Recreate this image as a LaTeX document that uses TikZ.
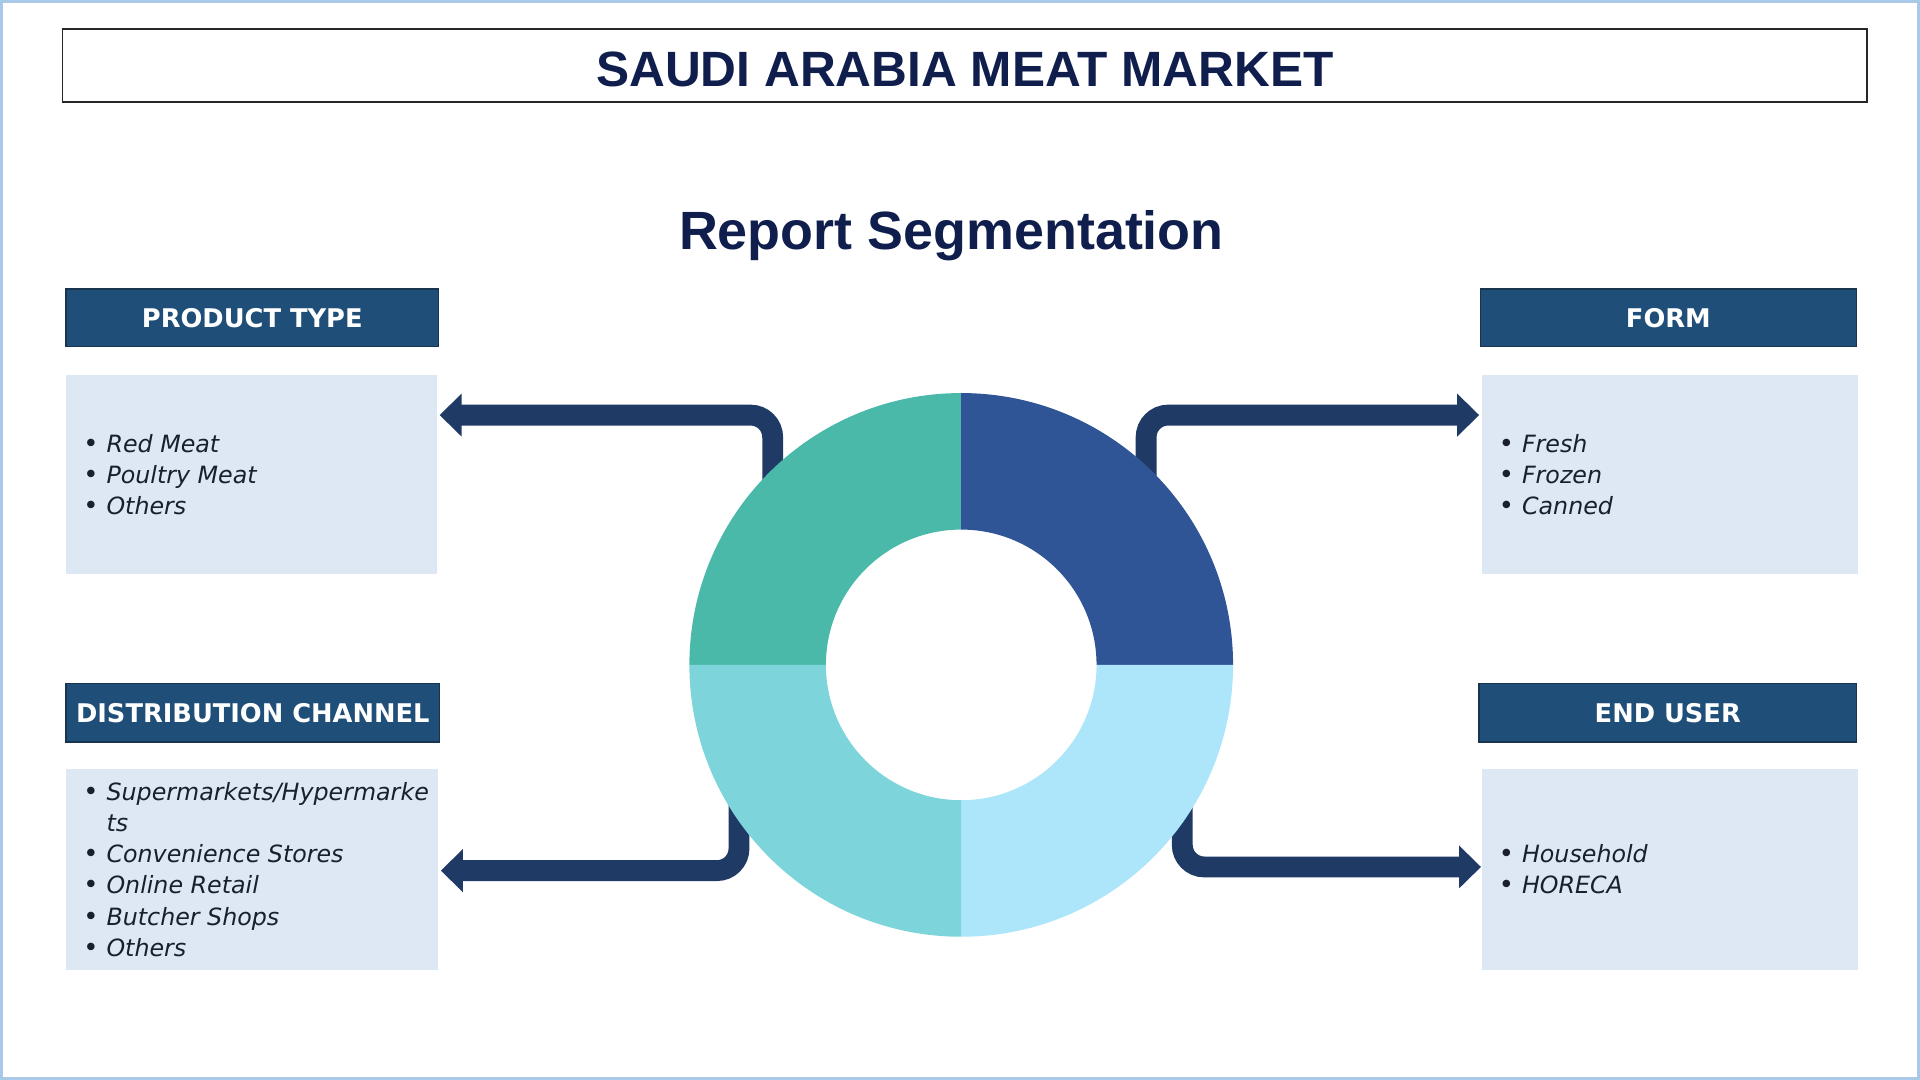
\documentclass[tikz,border=0pt]{standalone}
\usepackage{fontspec}
\setmainfont{DejaVu Sans}
\newfontfamily\titlefont{Liberation Sans}
\usetikzlibrary{arrows.meta}
\definecolor{navy}{HTML}{0F1E4C}
\definecolor{hdrblue}{HTML}{1F4E79}
\definecolor{hdrborder}{HTML}{18344F}
\definecolor{cboxfill}{HTML}{DEE8F4}
\definecolor{itemtext}{HTML}{1A1F2E}
\definecolor{arrowblue}{HTML}{203A66}
\definecolor{frameblue}{HTML}{A9C9E8}
\definecolor{qtl}{HTML}{4BB9A9}
\definecolor{qtr}{HTML}{2F5597}
\definecolor{qbr}{HTML}{ADE5FA}
\definecolor{qbl}{HTML}{7DD4DB}
\newcommand\itm[1]{\makebox[19pt][l]{\upshape\fontsize{21}{25.5}\selectfont•}#1}
\begin{document}
\begin{tikzpicture}[x=1pt,y=-1pt,
  hdr/.style={fill=hdrblue, draw=hdrborder, line width=1.2pt, text=white,
    font=\fontsize{21}{25}\selectfont\bfseries, inner sep=0pt},
  cbox/.style={fill=cboxfill, inner xsep=14pt, inner ysep=0pt, align=flush left,
    font=\fontsize{19.4}{25.5}\selectfont\itshape, text=itemtext},
  conn/.style={line width=17pt, draw=arrowblue, rounded corners=18pt,
    -{Triangle[width=34pt,length=18pt]}}
]
\useasboundingbox (0,0) rectangle (1568,882);
\draw[frameblue, line width=2.5pt] (1.25,1.25) rectangle (1566.75,880.75);

% title
\node[draw=black!85, line width=1.5pt, minimum width=1474pt, minimum height=59pt,
  inner sep=0pt, text height=34.6pt, text depth=0pt, text=navy,
  font={\titlefont\fontsize{40.5}{44}\selectfont\bfseries}]
  (title) at (788,53.5) {SAUDI ARABIA MEAT MARKET};
\node[anchor=base, text=navy, font={\titlefont\fontsize{44}{48}\selectfont\bfseries}]
  (subtitle) at (777,204) {Report Segmentation};

% headers
\node[hdr, minimum width=304pt, minimum height=47pt] (pthdr) at (206,259.5) {PRODUCT TYPE};
\node[hdr, minimum width=307pt, minimum height=47pt] (formhdr) at (1362.5,259.5) {FORM};
\node[hdr, minimum width=305pt, minimum height=48pt] (dchdr) at (206.5,582) {DISTRIBUTION CHANNEL};
\node[hdr, minimum width=308pt, minimum height=48pt] (euhdr) at (1362,582) {END USER};

% content boxes
\node[cbox, text width=275pt, minimum height=163pt] (ptbox) at (205.5,387.5)
  {\itm{Red Meat}\\\itm{Poultry Meat}\\\itm{Others}};
\node[cbox, text width=279pt, minimum height=163pt] (formbox) at (1363.5,387.5)
  {\itm{Fresh}\\\itm{Frozen}\\\itm{Canned}};
\node[cbox, text width=276pt, minimum height=164pt] (dcbox) at (206,710)
  {\itm{Supermarkets/Hypermarke}\\\hspace*{19pt}ts\\\itm{Convenience Stores}\\\itm{Online Retail}\\\itm{Butcher Shops}\\\itm{Others}};
\node[cbox, text width=279pt, minimum height=164pt] (eubox) at (1363.5,710)
  {\itm{Household}\\\itm{HORECA}};

% donut anchor
\node[circle, minimum size=444pt, inner sep=0pt] (donut) at (785,543) {};

% connector end points
\coordinate (s1) at (631,410);
\coordinate (e1) at (359,339);
\coordinate (s2) at (936,410);
\coordinate (e2) at (1208,339);
\coordinate (s3) at (603.5,640);
\coordinate (e3) at (360,711);
\coordinate (s4) at (965.5,640);
\coordinate (e4) at (1209.5,708);

\draw[conn] (s1) |- (e1);
\draw[conn] (s2) |- (e2);
\draw[conn] (s3) |- (e3);
\draw[conn] (s4) |- (e4);

% donut
\begin{scope}[shift={(donut.center)}]
\fill[qtl] (180:222) arc[start angle=180,end angle=270,radius=222] -- (270:110.5) arc[start angle=270,end angle=180,radius=110.5] -- cycle;
\fill[qtr] (270:222) arc[start angle=270,end angle=360,radius=222] -- (0:110.5) arc[start angle=360,end angle=270,radius=110.5] -- cycle;
\fill[qbr] (0:222) arc[start angle=0,end angle=90,radius=222] -- (90:110.5) arc[start angle=90,end angle=0,radius=110.5] -- cycle;
\fill[qbl] (90:222) arc[start angle=90,end angle=180,radius=222] -- (180:110.5) arc[start angle=180,end angle=90,radius=110.5] -- cycle;
\end{scope}
\end{tikzpicture}
\end{document}
